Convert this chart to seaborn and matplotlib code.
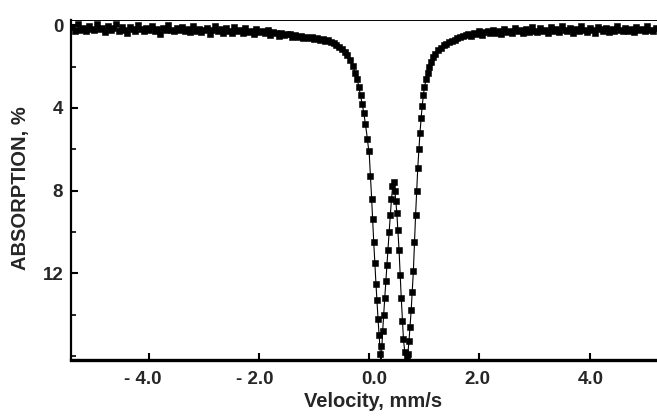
import matplotlib
matplotlib.use("Agg")
import matplotlib.pyplot as plt
import matplotlib.transforms as mtransforms
import seaborn as sns
import pandas as pd

# ---- measured spectrum (velocity mm/s, absorption %) ----
left_vel = [-5.40, -5.35, -5.30, -5.25, -5.20, -5.15, -5.10, -5.05, -5.00, -4.95,
            -4.90, -4.85, -4.80, -4.75, -4.70, -4.65, -4.60, -4.55, -4.50, -4.45,
            -4.40, -4.35, -4.30, -4.25, -4.20, -4.15, -4.10, -4.05, -4.00, -3.95,
            -3.90, -3.85, -3.80, -3.75, -3.70, -3.65, -3.60, -3.55, -3.50, -3.45,
            -3.40, -3.35, -3.30, -3.25, -3.20, -3.15, -3.10, -3.05, -3.00, -2.95,
            -2.90, -2.85, -2.80, -2.75, -2.70, -2.65, -2.60, -2.55, -2.50, -2.45,
            -2.40, -2.35, -2.30, -2.25, -2.20, -2.15, -2.10, -2.05, -2.00, -1.95,
            -1.90, -1.85, -1.80, -1.75, -1.70, -1.65, -1.60, -1.55, -1.50]
left_abs = [0.10, 0.28, -0.05, 0.22, 0.15, 0.30, 0.02, 0.18, 0.25, -0.08,
            0.20, 0.12, 0.33, 0.05, 0.22, 0.16, -0.04, 0.28, 0.10, 0.24,
            0.38, 0.08, 0.20, 0.26, 0.00, 0.18, 0.30, 0.14, 0.22, 0.06,
            0.27, 0.19, 0.42, 0.12, 0.25, -0.02, 0.21, 0.30, 0.16, 0.24,
            0.08, 0.29, 0.20, 0.35, 0.03, 0.26, 0.18, 0.31, 0.22, 0.12,
            0.45, 0.25, 0.05, 0.30, 0.20, 0.36, 0.14, 0.28, 0.40, 0.10,
            0.30, 0.22, 0.38, 0.15, 0.33, 0.26, 0.44, 0.20, 0.35, 0.28,
            0.40, 0.24, 0.46, 0.33, 0.38, 0.50, 0.36, 0.48, 0.42]

mid_vel = [-1.45, -1.40, -1.35, -1.30, -1.25, -1.20, -1.15, -1.10, -1.05, -1.00,
           -0.95, -0.90, -0.85, -0.80, -0.75, -0.70, -0.65, -0.60, -0.55, -0.50,
           -0.45, -0.40, -0.35, -0.30, -0.26, -0.22, -0.19, -0.16, -0.13, -0.10,
           -0.07, -0.04, -0.01, 0.02, 0.04, 0.06, 0.08, 0.10, 0.12, 0.14,
           0.16, 0.18, 0.20, 0.22, 0.24, 0.26, 0.28, 0.30, 0.32, 0.34,
           0.36, 0.38, 0.40, 0.42, 0.44, 0.46, 0.48, 0.50, 0.52, 0.54,
           0.56, 0.58, 0.60, 0.62, 0.65, 0.68, 0.70, 0.72, 0.74, 0.76,
           0.78, 0.80, 0.82, 0.84, 0.86, 0.88, 0.90, 0.92, 0.94, 0.96,
           0.98, 1.00, 1.03, 1.06, 1.09, 1.12, 1.16, 1.20, 1.25, 1.30,
           1.35, 1.40, 1.45, 1.50, 1.55, 1.60, 1.65, 1.70]
mid_abs = [0.45, 0.55, 0.48, 0.58, 0.52, 0.60, 0.55, 0.62, 0.58, 0.66,
           0.62, 0.70, 0.68, 0.76, 0.74, 0.82, 0.88, 0.96, 1.04, 1.15,
           1.28, 1.45, 1.70, 1.98, 2.30, 2.62, 3.00, 3.40, 3.80, 4.25,
           4.80, 5.50, 6.10, 7.30, 8.40, 9.40, 10.5, 11.5, 12.5, 13.3,
           14.2, 15.0, 15.9, 15.5, 14.8, 14.0, 13.2, 12.4, 11.6, 10.9,
           10.0, 9.2, 8.4, 7.8, 7.6, 8.0, 8.5, 9.1, 9.9, 10.9,
           12.1, 13.2, 14.3, 15.2, 15.8, 16.0, 15.9, 15.3, 14.6, 13.8,
           12.9, 11.9, 10.5, 9.2, 8.0, 6.9, 6.0, 5.2, 4.5, 3.9,
           3.4, 3.0, 2.6, 2.3, 2.0, 1.80, 1.55, 1.40, 1.22, 1.10,
           0.98, 0.92, 0.82, 0.76, 0.70, 0.62, 0.58, 0.52]

right_vel = [1.75, 1.80, 1.85, 1.90, 1.95, 2.00, 2.05, 2.10, 2.15, 2.20,
             2.25, 2.30, 2.35, 2.40, 2.45, 2.50, 2.55, 2.60, 2.65, 2.70,
             2.75, 2.80, 2.85, 2.90, 2.95, 3.00, 3.05, 3.10, 3.15, 3.20,
             3.25, 3.30, 3.35, 3.40, 3.45, 3.50, 3.55, 3.60, 3.65, 3.70,
             3.75, 3.80, 3.85, 3.90, 3.95, 4.00, 4.05, 4.10, 4.15, 4.20,
             4.25, 4.30, 4.35, 4.40, 4.45, 4.50, 4.55, 4.60, 4.65, 4.70,
             4.75, 4.80, 4.85, 4.90, 4.95, 5.00, 5.05, 5.10, 5.15, 5.20]
right_abs = [0.48, 0.42, 0.50, 0.38, 0.44, 0.30, 0.46, 0.35, 0.28, 0.40,
             0.22, 0.36, 0.30, 0.44, 0.18, 0.34, 0.26, 0.40, 0.12, 0.30,
             0.24, 0.38, 0.20, 0.32, 0.08, 0.28, 0.35, 0.16, 0.30, 0.22,
             0.40, 0.10, 0.26, 0.18, 0.34, 0.05, 0.24, 0.30, 0.14, 0.36,
             0.20, 0.27, 0.02, 0.22, 0.31, 0.15, 0.25, 0.38, 0.08, 0.20,
             0.29, 0.12, 0.33, 0.18, 0.26, 0.04, 0.22, 0.30, 0.14, 0.27,
             0.20, 0.35, 0.10, 0.24, 0.17, 0.30, 0.06, 0.22, 0.28, 0.12]

# ---- fitted envelope ----
fit_vel = [-5.4, -4.0, -3.0, -2.5, -2.0, -1.5, -1.2, -1.0, -0.8, -0.65, -0.5, -0.4,
           -0.3, -0.22, -0.16, -0.1, -0.05, 0.0, 0.04, 0.08, 0.12, 0.16, 0.2, 0.21,
           0.24, 0.28, 0.32, 0.36, 0.40, 0.43, 0.46, 0.50, 0.54, 0.58, 0.62, 0.675,
           0.72, 0.76, 0.80, 0.84, 0.88, 0.92, 0.96, 1.0, 1.06, 1.12, 1.2, 1.3,
           1.4, 1.5, 1.7, 2.0, 2.5, 3.0, 4.0, 5.3]
fit_abs = [0.15, 0.2, 0.25, 0.3, 0.36, 0.45, 0.55, 0.63, 0.75, 0.9, 1.13, 1.4,
           1.95, 2.6, 3.4, 4.25, 5.2, 6.3, 8.3, 10.5, 12.5, 14.3, 15.9, 16.6,
           14.9, 13.2, 11.6, 10.0, 8.5, 7.6, 7.9, 9.1, 10.9, 13.2, 15.2, 16.6,
           15.3, 13.8, 11.9, 9.2, 6.9, 5.2, 3.9, 3.0, 2.3, 1.8, 1.4, 1.1,
           0.9, 0.75, 0.55, 0.4, 0.3, 0.25, 0.2, 0.15]

x_ticks = [-4.0, -2.0, 0.0, 2.0, 4.0]
x_tick_labels = ["- 4.0", "- 2.0", "0.0", "2.0", "4.0"]
x_label_shift_px = [-6, -4, 5, -2, 1]
y_ticks = [0, 4, 8, 12]
y_tick_labels = ["0", "4", "8", "12"]

data = pd.DataFrame({"vel": left_vel + mid_vel + right_vel,
                     "abs": left_abs + mid_abs + right_abs})
fit = pd.DataFrame({"vel": fit_vel, "abs": fit_abs})

sns.set_theme(style="white")
plt.rcParams["font.family"] = ["Liberation Sans", "DejaVu Sans"]
plt.rcParams["font.weight"] = "bold"

W, H = 657, 418
fig = plt.figure(figsize=(W / 100, H / 100), dpi=100)
ax = fig.add_axes([71 / W, 1 - 360 / H, 1 - 71 / W + 0.002, (360 - 20) / H])

sns.lineplot(data=fit, x="vel", y="abs", sort=False, estimator=None,
             color="black", linewidth=0.8, ax=ax)
sns.scatterplot(data=data, x="vel", y="abs", marker="s", s=15, color="black",
                edgecolor="black", linewidth=0.4, ax=ax, zorder=3)

ax.set_xlim(-5.42, 5.25)
ax.set_ylim(16.2, -0.25)

ax.set_xticks(x_ticks)
ax.set_xticklabels(x_tick_labels, fontsize=13.5, fontweight="bold")
ax.set_yticks(y_ticks)
ax.set_yticklabels(y_tick_labels, fontsize=13.5, fontweight="bold")
ax.set_yticks([2, 6, 10, 14, 16], minor=True)

ax.tick_params(axis="both", which="major", direction="in", length=5, width=1.5,
               color="black", left=True, bottom=True)
ax.tick_params(axis="y", which="minor", direction="in", length=3.5, width=1.2,
               color="black", left=True)
ax.tick_params(axis="x", pad=8)
ax.tick_params(axis="y", pad=5.5)

for lab, dx in zip(ax.get_xticklabels(), x_label_shift_px):
    lab.set_transform(lab.get_transform() +
                      mtransforms.ScaledTranslation(dx / 100, 0, fig.dpi_scale_trans))

for sp in ["left", "bottom", "top"]:
    ax.spines[sp].set_visible(True)
    ax.spines[sp].set_color("black")
ax.spines["left"].set_linewidth(1.6)
ax.spines["bottom"].set_linewidth(2.4)
ax.spines["top"].set_linewidth(0.7)
ax.spines["right"].set_visible(False)

ax.set_xlabel("")
ax.set_ylabel("")
fig.text(373 / W, 1 - 407 / H, "Velocity, mm/s", fontsize=14.5, fontweight="bold",
         ha="center", va="baseline")
fig.text(21 / W, 1 - 188 / H, "ABSORPTION, %", fontsize=14.5, fontweight="bold",
         ha="center", va="center", rotation=90)

fig.savefig("out.png", dpi=100)
